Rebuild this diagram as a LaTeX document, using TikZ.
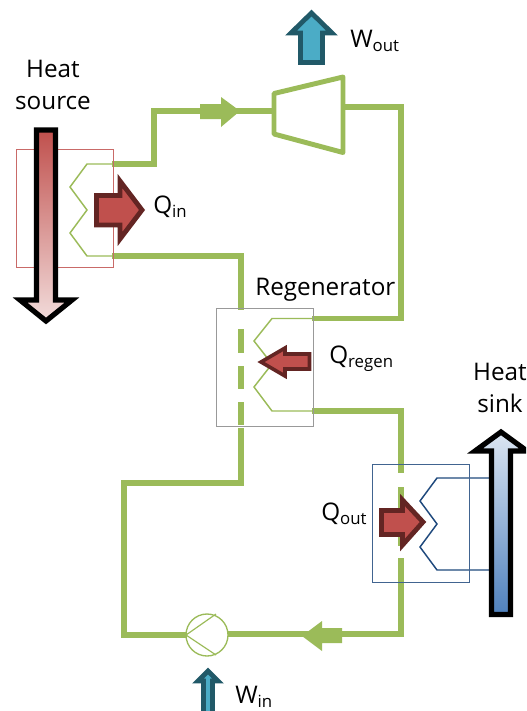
\documentclass[tikz,border=0pt]{standalone}
\usepackage{fontspec}
\setmainfont{Open Sans}
\definecolor{cyc}{HTML}{9BBB59}
\definecolor{hot}{HTML}{C0504D}
\definecolor{hotdark}{HTML}{632523}
\definecolor{hotpale}{HTML}{F2DCDB}
\definecolor{cool}{HTML}{4F81BD}
\definecolor{coolpale}{HTML}{DCE6F2}
\definecolor{coil}{HTML}{1F497D}
\definecolor{wfill}{HTML}{4BACC6}
\definecolor{wdark}{HTML}{215968}
\newcommand{\lbl}[2]{#1\raisebox{-0.2em}{\fontsize{12.6pt}{14pt}\selectfont #2}}
\tikzset{
  pipe/.style={draw=cyc,line width=4.2pt,line join=miter},
  thincoil/.style={draw=cyc,line width=1.1pt},
  bluecoil/.style={draw=coil,line width=1.1pt},
  hxbox/.style={draw,line width=0.7pt,minimum width=72.75pt,minimum height=88.5pt,inner sep=0pt,anchor=north west},
  heatarrow/.style={draw=hotdark,fill=hot,line width=3.6pt,miter limit=10},
  workarrow/.style={draw=wdark,fill=wfill,line width=3.6pt,miter limit=10},
  bigarrow/.style={draw=black,line width=3.9pt,miter limit=10},
  flowhead/.style={fill=cyc},
  txt/.style={font=\fontsize{18.2pt}{24pt}\selectfont,inner sep=0pt,text=black},
  txtl/.style={txt,anchor=base west}
}
\begin{document}
\begin{tikzpicture}[x=0.75pt,y=-0.75pt]
\useasboundingbox (0,0) rectangle (526,711);
\clip (0,0) rectangle (526,711);
% cycle corners
\coordinate (hotOut) at (112,164);
\coordinate (hotIn) at (112,256);
\coordinate (a1) at (154,164);
\coordinate (a2) at (154,111);
\coordinate (tIn) at (274,111);
\coordinate (tOut) at (343,107);
\coordinate (b1) at (401,107);
\coordinate (b2) at (401,318.5);
\coordinate (regOut1) at (312,318.5);
\coordinate (regOut2) at (312,411);
\coordinate (c1) at (401,411);
\coordinate (d1) at (401,634);
\coordinate (pumpR) at (228,634);
\coordinate (pumpL) at (186,635);
\coordinate (e1) at (124,635);
\coordinate (e2) at (124,483);
\coordinate (e3) at (241,483);
\coordinate (f1) at (241,256);

% thick pipes
\draw[pipe] (hotOut) -- (a1) -- (a2) -- (tIn);
\draw[pipe] (tOut) -- (b1) -- (b2) -- (regOut1);
\draw[pipe] (hotIn) -- (f1) -- (241,310);
\draw[pipe] (241,329) -- (241,353);
\draw[pipe] (241,366) -- (241,389);
\draw[pipe] (241,402) -- (241,425);
\draw[pipe] (241,428) -- (e3) -- (e2) -- (e1) -- (pumpL);
\draw[pipe] (regOut2) -- (c1) -- (401,473);
\draw[pipe] (401,487) -- (401,546);
\draw[pipe] (401,558) -- (d1) -- (pumpR);

% flow arrows on pipes
\fill[flowhead] (200,104) -- (221,104) -- (221,97) -- (240,111) -- (221,127) -- (221,119) -- (200,119) -- cycle;
\fill[flowhead] (342,628) -- (322,628) -- (322,621) -- (302,636) -- (322,651) -- (322,643) -- (342,643) -- cycle;

% turbine
\draw[pipe,line width=3.7pt,line join=round] (274,93.5) -- (343,77) -- (343,152.5) -- (274,134) -- cycle;

% pump
\node[circle,draw=cyc,line width=1pt,minimum size=31.5pt,inner sep=0pt] (pump) at (207,635) {};
\draw[thincoil,line width=0.9pt] (216,614) -- (pumpL) -- (216,655);

% coils
\draw[thincoil] (hotOut) -- (87,164) -- (70,187) -- (87,210) -- (70,233) -- (87,256) -- (hotIn);
\draw[thincoil] (regOut1) -- (272,318.5) -- (254,341) -- (272,364) -- (254,387) -- (272,411) -- (regOut2);
\draw[bluecoil] (504,478) -- (437,478) -- (420,501) -- (437,524) -- (420,547) -- (437,570) -- (504,570);

% exchanger boxes
\node[hxbox,draw=hot!85!white] (source) at (15.5,149) {};
\node[hxbox,draw=black!40] (regen) at (215.5,307.5) {};
\node[hxbox,draw=coil!85!white] (sink) at (371.5,463.5) {};

% big gradient arrows
\path[bigarrow,top color=hot,bottom color=hotpale]
  (36.5,130) -- (55.5,130) -- (55.5,300) -- (72,300) -- (46,321) -- (20,300) -- (36.5,300) -- cycle;
\path[bigarrow,top color=coolpale,bottom color=cool]
  (491.5,614.5) -- (510.5,614.5) -- (510.5,451) -- (527,451) -- (501,432) -- (475,451) -- (491.5,451) -- cycle;

% heat arrows
\draw[heatarrow] (96.5,195.5) -- (120,195.5) -- (120,181) -- (142,210) -- (120,239) -- (120,225) -- (96.5,225) -- cycle;
\draw[heatarrow,line width=2.7pt] (309.5,354) -- (285,354) -- (285,348) -- (261,362) -- (285,376) -- (285,369) -- (309.5,369) -- cycle;
\draw[heatarrow] (381.5,510.5) -- (402.5,510.5) -- (402.5,500) -- (423,522) -- (402.5,545) -- (402.5,534.5) -- (381.5,534.5) -- cycle;

% work arrows
\draw[workarrow] (300.5,62.5) -- (322.5,62.5) -- (322.5,33) -- (332,33) -- (311.5,13) -- (291,33) -- (300.5,33) -- cycle;
\draw[workarrow] (203.5,714) -- (212.5,714) -- (212.5,681) -- (218,681) -- (208,671) -- (198,681) -- (203.5,681) -- cycle;

% labels
\node[txt,align=center] (lblSource) at (53,85) {Heat\\source};
\node[txt,align=center] (lblSink) at (500,388) {Heat\\sink};
\node[txtl] (lblRegen) at (255,295) {Regenerator};
\node[txtl] (lblQin) at (153,213) {\lbl{Q}{in}};
\node[txtl] (lblQregen) at (329,363) {\lbl{Q}{regen}};
\node[txtl] (lblQout) at (321,520) {\lbl{Q}{out}};
\node[txtl] (lblWout) at (350,47) {\lbl{W}{out}};
\node[txtl] (lblWin) at (235,703) {\lbl{W}{in}};
\end{tikzpicture}
\end{document}
